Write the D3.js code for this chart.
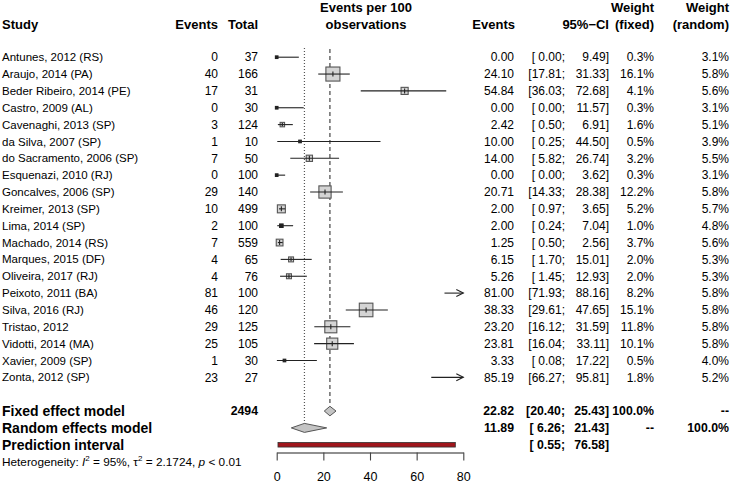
<!DOCTYPE html>
<html>
<head>
<meta charset="utf-8">
<script src="https://cdn.jsdelivr.net/npm/d3@7"></script>
<style>
  html, body { margin: 0; padding: 0; background: #fff; }
  svg text { font-family: "Liberation Sans", Arial, Helvetica, sans-serif; white-space: pre; }
</style>
</head>
<body>
<svg id="chart" width="733" height="485"></svg>
<script>
// ---------------- data ----------------
const studies = ["Antunes, 2012 (RS)", "Araujo, 2014 (PA)", "Beder Ribeiro, 2014 (PE)", "Castro, 2009 (AL)",
  "Cavenaghi, 2013 (SP)", "da Silva, 2007 (SP)", "do Sacramento, 2006 (SP)", "Esquenazi, 2010 (RJ)",
  "Goncalves, 2006 (SP)", "Kreimer, 2013 (SP)", "Lima, 2014 (SP)", "Machado, 2014 (RS)",
  "Marques, 2015 (DF)", "Oliveira, 2017 (RJ)", "Peixoto, 2011 (BA)", "Silva, 2016 (RJ)",
  "Tristao, 2012", "Vidotti, 2014 (MA)", "Xavier, 2009 (SP)", "Zonta, 2012 (SP)"];
const events = [0, 40, 17, 0, 3, 1, 7, 0, 29, 10, 2, 7, 4, 4, 81, 46, 29, 25, 1, 23];
const totals = [37, 166, 31, 30, 124, 10, 50, 100, 140, 499, 100, 559, 65, 76, 100, 120, 125, 105, 30, 27];
const estimates = [0.00, 24.10, 54.84, 0.00, 2.42, 10.00, 14.00, 0.00, 20.71, 2.00, 2.00, 1.25, 6.15, 5.26, 81.00, 38.33, 23.20, 23.81, 3.33, 85.19];
const lowers = [0.00, 17.81, 36.03, 0.00, 0.50, 0.25, 5.82, 0.00, 14.33, 0.97, 0.24, 0.50, 1.70, 1.45, 71.93, 29.61, 16.12, 16.04, 0.08, 66.27];
const uppers = [9.49, 31.33, 72.68, 11.57, 6.91, 44.50, 26.74, 3.62, 28.38, 3.65, 7.04, 2.56, 15.01, 12.93, 88.16, 47.65, 31.59, 33.11, 17.22, 95.81];
const weightsFixed = [0.3, 16.1, 4.1, 0.3, 1.6, 0.5, 3.2, 0.3, 12.2, 5.2, 1.0, 3.7, 2.0, 2.0, 8.2, 15.1, 11.8, 10.1, 0.5, 1.8];
const weightsRandom = [3.1, 5.8, 5.6, 3.1, 5.1, 3.9, 5.5, 3.1, 5.8, 5.7, 4.8, 5.6, 5.3, 5.3, 5.8, 5.8, 5.8, 5.8, 4.0, 5.2];

const totalN = 2494;
const fixedModel = { est: 22.82, lo: 20.40, hi: 25.43 };
const randomModel = { est: 11.89, lo: 6.26, hi: 21.43 };
const predictionInterval = { lo: 0.55, hi: 76.58 };
const heterogeneity = { I2: "95%", tau2: "2.1724", p: "0.01" };
const axisTicks = [0, 20, 40, 60, 80];
const axisDomain = [0, 80];

// ---------------- layout ----------------
const svg = d3.select("#chart");
const FS = 12;        // regular numbers
const FSN = 11.5;     // study names
const FSH = 13;       // bold headers
const FSL = 14;       // bold summary labels
const FSB = 12.3;     // bold summary values
const rowH = 16.85;
const firstRowY = 57.2;
const rowY = i => firstRowY + i * rowH;
const nStudies = studies.length;
const fixedY = rowY(nStudies + 1);
const randomY = rowY(nStudies + 2);
const predY = rowY(nStudies + 3);
const hetY = rowY(nStudies + 4);
const axisY = 452.5;

const x = d3.scaleLinear().domain(axisDomain).range([276.7, 463.3]);

const colStudy = 2, colEvents = 218, colTotal = 258;
const colEst = 514, colSemi = 565, colCI = 609, colWF = 654, colWR = 729;

const f2 = d3.format(".2f");
const pad = (s, n) => " ".repeat(Math.max(0, n - s.length)) + s;
const ciLeft = lo => "[" + pad(f2(lo), 5) + ";";
const ciRight = hi => f2(hi) + "]";
const pct = v => d3.format(".1f")(v) + "%";

function txt(xp, yc, s, anchor, bold, size) {
  const fs = size || FS;
  return svg.append("text")
    .attr("x", xp).attr("y", yc + fs * 0.355)
    .attr("text-anchor", anchor || "start")
    .attr("font-size", fs)
    .attr("font-weight", bold ? "bold" : "normal")
    .attr("fill", "#000")
    .text(s);
}
function ci(y, lo, hi, bold, size) {
  txt(colSemi, y, ciLeft(lo), "end", bold, size);
  txt(colCI, y, ciRight(hi), "end", bold, size);
}

// ---------------- headers ----------------
const h1 = 7.5, h2 = 24.3;
txt(colStudy, h2, "Study", "start", true, FSH);
txt(colEvents, h2, "Events", "end", true, FSH);
txt(colTotal, h2, "Total", "end", true, FSH);
txt(x(40) - 4, h1, "Events per 100", "middle", true, FSH);
txt(x(40) - 4, h2, "observations", "middle", true, FSH);
txt(colEst + 1, h2, "Events", "end", true, FSH);
txt(colCI, h2, "95%\u2212CI", "end", true, FSH);
txt(colWF, h1, "Weight", "end", true, FSH);
txt(colWF, h2, "(fixed)", "end", true, FSH);
txt(colWR, h1, "Weight", "end", true, FSH);
txt(colWR, h2, "(random)", "end", true, FSH);

// ---------------- reference lines ----------------
svg.append("line")
  .attr("x1", x(fixedModel.est)).attr("x2", x(fixedModel.est))
  .attr("y1", 49).attr("y2", fixedY - 5)
  .attr("stroke", "#333").attr("stroke-width", 1.1).attr("stroke-dasharray", "4,3");
svg.append("line")
  .attr("x1", x(randomModel.est)).attr("x2", x(randomModel.est))
  .attr("y1", 48).attr("y2", randomY - 4.5)
  .attr("stroke", "#555").attr("stroke-width", 1.2).attr("stroke-dasharray", "1,2");

// ---------------- study rows ----------------
const [dmin, dmax] = axisDomain;
studies.forEach((s, i) => {
  const y = rowY(i);
  txt(colStudy, y, s, "start", false, FSN);
  txt(colEvents, y, String(events[i]), "end");
  txt(colTotal, y, String(totals[i]), "end");
  txt(colEst, y, f2(estimates[i]), "end");
  ci(y, lowers[i], uppers[i], false, FS);
  txt(colWF, y, pct(weightsFixed[i]), "end");
  txt(colWR, y, pct(weightsRandom[i]), "end");

  const lo = Math.max(dmin, lowers[i]);
  const hi = Math.min(dmax, uppers[i]);
  const inRange = estimates[i] >= dmin && estimates[i] <= dmax;
  const side = Math.max(2.6, 3.5 * Math.sqrt(weightsFixed[i]));

  if (inRange) {
    svg.append("rect")
      .attr("x", x(estimates[i]) - side / 2).attr("y", y - side / 2)
      .attr("width", side).attr("height", side)
      .attr("fill", side < 4 ? "#222" : "#d4d4d4")
      .attr("stroke", side < 4 ? "#222" : "#555").attr("stroke-width", 1.1);
  }
  svg.append("line")
    .attr("x1", x(lo)).attr("x2", x(hi))
    .attr("y1", y).attr("y2", y)
    .attr("stroke", "#222").attr("stroke-width", 1.1);
  if (inRange && side >= 4) {
    const th = Math.min(side / 2 - 0.5, 2.5);
    svg.append("line")
      .attr("x1", x(estimates[i])).attr("x2", x(estimates[i]))
      .attr("y1", y - th).attr("y2", y + th)
      .attr("stroke", "#222").attr("stroke-width", 1.1);
  }
  if (uppers[i] > dmax) {
    const xe = x(dmax);
    svg.append("path")
      .attr("d", `M${xe - 7},${y - 3.5} L${xe},${y} L${xe - 7},${y + 3.5}`)
      .attr("fill", "none").attr("stroke", "#222").attr("stroke-width", 1.1);
  }
});

// ---------------- summary rows ----------------
txt(colStudy, fixedY, "Fixed effect model", "start", true, FSL);
txt(colTotal, fixedY, String(totalN), "end", true, FSB);
txt(colEst, fixedY, f2(fixedModel.est), "end", true, FSB);
ci(fixedY, fixedModel.lo, fixedModel.hi, true, FSB);
txt(colWF, fixedY, "100.0%", "end", true, FSB);
txt(colWR, fixedY, "--", "end", true, FSB);

txt(colStudy, randomY, "Random effects model", "start", true, FSL);
txt(colEst, randomY, f2(randomModel.est), "end", true, FSB);
ci(randomY, randomModel.lo, randomModel.hi, true, FSB);
txt(colWF, randomY, "--", "end", true, FSB);
txt(colWR, randomY, "100.0%", "end", true, FSB);

txt(colStudy, predY, "Prediction interval", "start", true, FSL);
ci(predY, predictionInterval.lo, predictionInterval.hi, true, FSB);

function diamond(m, y, hh) {
  svg.append("path")
    .attr("d", `M${x(m.lo)},${y} L${x(m.est)},${y - hh} L${x(m.hi)},${y} L${x(m.est)},${y + hh} Z`)
    .attr("fill", "#c4c4c4").attr("stroke", "#555").attr("stroke-width", 1);
}
diamond(fixedModel, fixedY, 4.8);
diamond(randomModel, randomY, 4.5);

svg.append("rect")
  .attr("x", x(predictionInterval.lo)).attr("y", predY - 2.3)
  .attr("width", x(predictionInterval.hi) - x(predictionInterval.lo)).attr("height", 4.6)
  .attr("fill", "#a0161c").attr("stroke", "#333").attr("stroke-width", 0.8);

// ---------------- heterogeneity ----------------
const HF = 11.8;
const het = svg.append("text")
  .attr("x", colStudy).attr("y", hetY + HF * 0.355)
  .attr("font-size", HF).attr("fill", "#000");
het.append("tspan").text("Heterogeneity: ");
het.append("tspan").attr("font-style", "italic").text("I");
het.append("tspan").attr("font-size", 8).attr("dy", -4.5).text("2");
het.append("tspan").attr("dy", 4.5).text(" = " + heterogeneity.I2 + ", \u03c4");
het.append("tspan").attr("font-size", 8).attr("dy", -4.5).text("2");
het.append("tspan").attr("dy", 4.5).text(" = " + heterogeneity.tau2 + ", ");
het.append("tspan").attr("font-style", "italic").text("p");
het.append("tspan").text(" < " + heterogeneity.p);

// ---------------- axis ----------------
const axis = d3.axisBottom(x).tickValues(axisTicks).tickSize(8).tickSizeOuter(0).tickPadding(12)
  .tickFormat(d3.format("d"));
const ag = svg.append("g").attr("transform", `translate(0,${axisY})`).call(axis);
ag.select(".domain").attr("stroke", "#222").attr("stroke-width", 1.1);
ag.selectAll(".tick line").attr("stroke", "#444").attr("stroke-width", 1.1);
ag.selectAll(".tick text").attr("font-size", 12.5).attr("fill", "#000")
  .attr("font-family", "Liberation Sans, Arial, sans-serif");
</script>
</body>
</html>
